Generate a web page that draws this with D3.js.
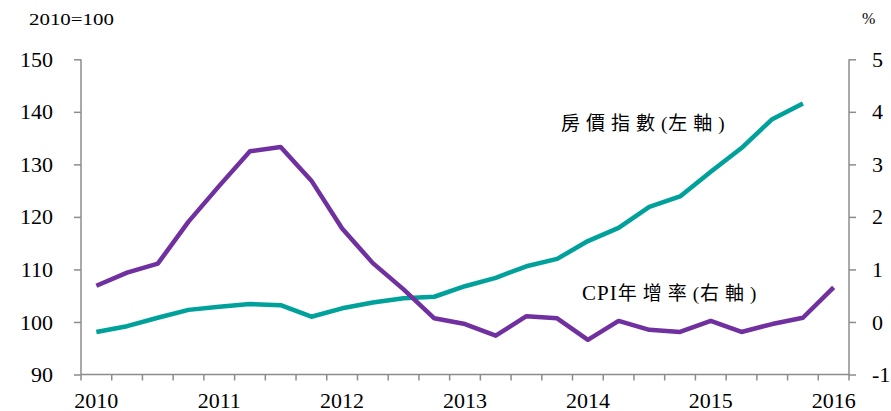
<!DOCTYPE html>
<html lang="zh-Hant">
<head>
    <meta charset="UTF-8">
    <title>房價指數與CPI年增率</title>
    <script src="https://d3js.org/d3.v7.min.js"></script>
    <style>
        body { margin: 0; background: #fff; }
        text { font-family: "Liberation Serif", "Times New Roman", serif; fill: #000; }
        .cjk { font-family: "Noto Sans CJK TC", "Noto Sans CJK SC", sans-serif; }
    </style>
</head>
<body>
<svg id="chart" width="891" height="411"></svg>
<script>
    // quarters 2010Q1 .. 2016Q1
    const quarters = ["2010Q1","2010Q2","2010Q3","2010Q4","2011Q1","2011Q2","2011Q3","2011Q4",
        "2012Q1","2012Q2","2012Q3","2012Q4","2013Q1","2013Q2","2013Q3","2013Q4",
        "2014Q1","2014Q2","2014Q3","2014Q4","2015Q1","2015Q2","2015Q3","2015Q4","2016Q1"];
    const yearLabels = ["2010", "2011", "2012", "2013", "2014", "2015", "2016"];

    // 房價指數 (2010=100), left axis
    const housePrice = [98.1, 99.2, 100.8, 102.3, 102.9, 103.4, 103.2, 101.0,
        102.6, 103.7, 104.5, 104.8, 106.8, 108.4, 110.6, 112.0,
        115.4, 117.9, 121.9, 123.9, 128.6, 133.1, 138.6, 141.6];
    // CPI年增率 (%), right axis
    const cpi = [0.69, 0.94, 1.11, 1.91, 2.59, 3.25, 3.33, 2.69,
        1.78, 1.12, 0.62, 0.07, -0.04, -0.26, 0.11, 0.07,
        -0.34, 0.02, -0.15, -0.19, 0.02, -0.19, -0.04, 0.08, 0.66];

    const leftTicks = [90, 100, 110, 120, 130, 140, 150];
    const rightTicks = [-1, 0, 1, 2, 3, 4, 5];

    const svg = d3.select("#chart");
    const plotLeft = 81, plotRight = 849, plotTop = 59.3, plotBottom = 374.5;

    const x = d3.scaleBand().domain(quarters).range([plotLeft, plotRight]).padding(0);
    const yL = d3.scaleLinear().domain([90, 150]).range([plotBottom, plotTop]);
    const yR = d3.scaleLinear().domain([-1, 5]).range([plotBottom, plotTop]);
    const cx = d => x(d) + x.bandwidth() / 2;

    const axisColor = "#8c8c8c";

    // left axis
    const gL = svg.append("g").attr("transform", `translate(${plotLeft},0)`)
        .call(d3.axisLeft(yL).tickValues(leftTicks).tickSize(7).tickPadding(21));
    // right axis (plain hyphen for negatives)
    const gR = svg.append("g").attr("transform", `translate(${plotRight},0)`)
        .call(d3.axisRight(yR).tickValues(rightTicks).tickSize(7).tickPadding(16)
            .tickFormat(d => String(d)));
    // bottom axis: ticks at every quarter boundary
    const gB = svg.append("g").attr("transform", `translate(0,${plotBottom})`);
    gB.append("line").attr("x1", plotLeft).attr("x2", plotRight)
        .attr("stroke", axisColor).attr("stroke-width", 1.5);
    const bounds = quarters.map(q => x(q)).concat([plotRight]);
    gB.selectAll("line.tk").data(bounds).join("line").attr("class", "tk")
        .attr("x1", d => d).attr("x2", d => d).attr("y1", 0).attr("y2", 6)
        .attr("stroke", axisColor).attr("stroke-width", 1.5);
    gB.selectAll("text").data(yearLabels).join("text")
        .attr("x", d => cx(d + "Q1")).attr("y", 33)
        .attr("text-anchor", "middle").style("font-size", "22px")
        .text(d => d);

    [gL, gR].forEach(g => {
        g.select(".domain").attr("stroke", axisColor).attr("stroke-width", 1.5);
        g.selectAll(".tick line").attr("stroke", axisColor).attr("stroke-width", 1.5);
        g.selectAll(".tick text").style("font-size", "22px")
            .style("font-family", "Liberation Serif, serif").attr("fill", "#000");
    });
    gL.select(".domain").attr("d", `M0,${plotTop}V${plotBottom}`);
    gR.select(".domain").attr("d", `M0,${plotTop}V${plotBottom}`);

    // unit labels
    svg.append("text").attr("x", 29).attr("y", 25).style("font-size", "16px")
        .attr("textLength", 85).attr("lengthAdjust", "spacingAndGlyphs").text("2010=100");
    svg.append("text").attr("x", 862).attr("y", 24).style("font-size", "16px").text("%");

    // lines
    const lineL = d3.line().x((d, i) => cx(quarters[i])).y(d => yL(d));
    const lineR = d3.line().x((d, i) => cx(quarters[i])).y(d => yR(d));

    svg.append("path").datum(housePrice)
        .attr("fill", "none").attr("stroke", "#00A19A").attr("stroke-width", 4.5)
        .attr("stroke-linejoin", "round").attr("d", lineL);
    svg.append("path").datum(cpi)
        .attr("fill", "none").attr("stroke", "#7030A0").attr("stroke-width", 4.5)
        .attr("stroke-linejoin", "round").attr("d", lineR);

    // annotations
    function addLabel(xPos, yPos, parts) {
        const t = svg.append("text").attr("x", xPos).attr("y", yPos).style("font-size", "19px");
        parts.forEach(p => {
            const s = t.append("tspan").text(p.s).style("letter-spacing", p.ls + "px");
            if (p.cjk) s.attr("class", "cjk");
            if (p.size) s.style("font-size", p.size + "px");
        });
    }
    addLabel(561, 130, [
        { s: "房價指數", cjk: true, ls: 6 },
        { s: "(", ls: 1 },
        { s: "左軸", cjk: true, ls: 6 },
        { s: ")", ls: 0 }
    ]);
    addLabel(582, 300, [
        { s: "CPI", ls: 1, size: 21 },
        { s: "年增率", cjk: true, ls: 6 },
        { s: "(", ls: 1 },
        { s: "右軸", cjk: true, ls: 6 },
        { s: ")", ls: 0 }
    ]);
</script>
</body>
</html>
